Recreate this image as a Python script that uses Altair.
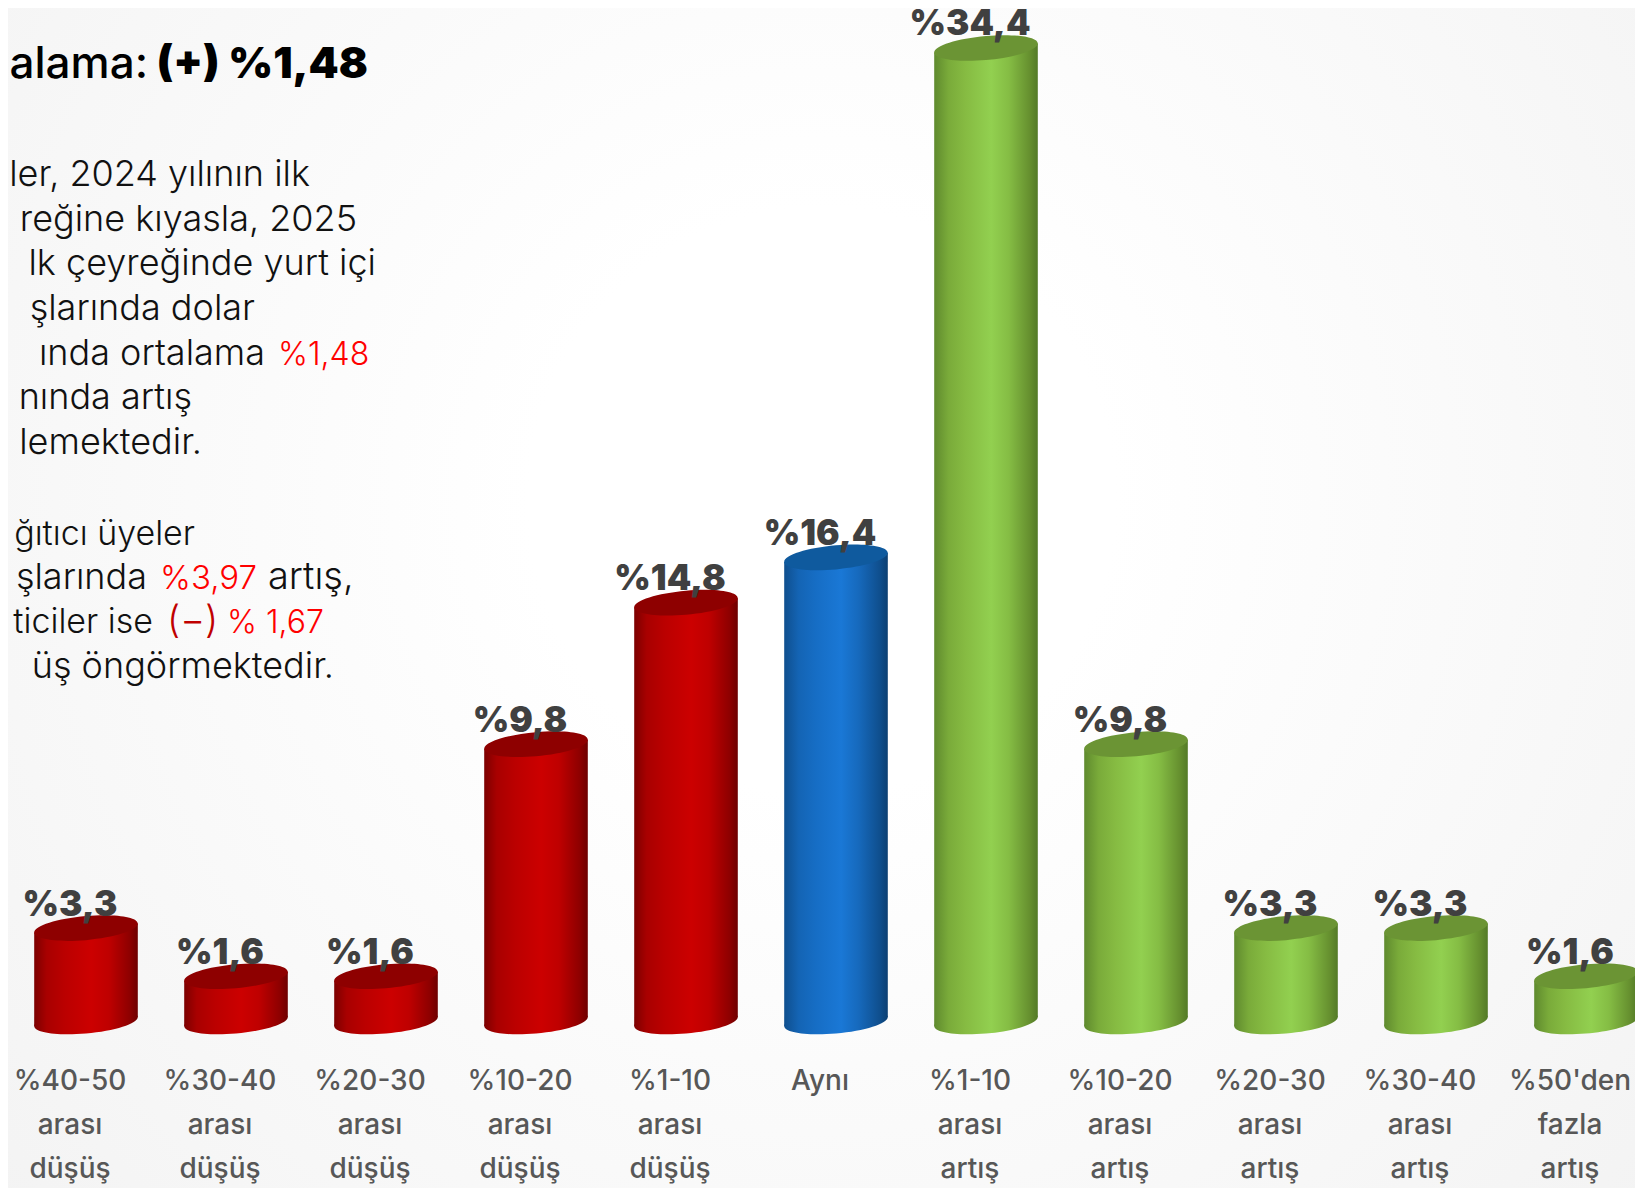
import altair as alt
import pandas as pd

W, H = 1627, 1180

categories = ["%40-50\narası\ndüşüş", "%30-40\narası\ndüşüş", "%20-30\narası\ndüşüş",
              "%10-20\narası\ndüşüş", "%1-10\narası\ndüşüş", "Aynı",
              "%1-10\narası\nartış", "%10-20\narası\nartış", "%20-30\narası\nartış",
              "%30-40\narası\nartış", "%50'den\nfazla\nartış"]
values = [3.3, 1.6, 1.6, 9.8, 14.8, 16.4, 34.4, 9.8, 3.3, 3.3, 1.6]
labels = ["%3,3", "%1,6", "%1,6", "%9,8", "%14,8", "%16,4", "%34,4", "%9,8", "%3,3", "%3,3", "%1,6"]
groups = ["red"] * 5 + ["blue"] + ["green"] * 5

STEP = 150.0
PX_PER_UNIT = 28.3
BASE_Y = 1013.5
X0 = 62.0
OFFSET = 16 / STEP
HALF = 51.8 / STEP
TILT = 4.5 / PX_PER_UNIT

x_scale = alt.Scale(domain=[-X0 / STEP, (W - X0) / STEP], range=[0, W])
y_scale = alt.Scale(domain=[0, BASE_Y / PX_PER_UNIT], range=[BASE_Y, 0])

base = pd.DataFrame({"i": range(len(values)), "v": values, "label": labels,
                     "cat": categories, "g": groups})
base["xc"] = base["i"] + OFFSET

sides = []
for _, r in base.iterrows():
    for s in (-1, 1):
        sides.append({"i": r["i"], "g": r["g"], "xs": r["xc"] + s * HALF,
                      "top": r["v"] + s * TILT, "bot": s * TILT})
sides = pd.DataFrame(sides)

# unit-box shape for the sheared ellipse (cylinder cap)
s_, k_, c_ = 0.087, 0.232, 0.5523
ELLIPSE = (f"M1,{-s_} C1,{k_*c_-s_} {c_},{k_-s_*c_} 0,{k_} "
           f"C{-c_},{k_+s_*c_} -1,{k_*c_+s_} -1,{s_} "
           f"C-1,{-k_*c_+s_} {-c_},{-k_+s_*c_} 0,{-k_} "
           f"C{c_},{-k_-s_*c_} 1,{-k_*c_-s_} 1,{-s_} Z")
CAP_SIZE = 103.6 ** 2

side_stops = {
    "red": [("#7c0000", 0), ("#a80000", .12), ("#bb0000", .3), ("#cc0000", .55), ("#bf0000", .72), ("#8e0000", .92), ("#6e0000", 1)],
    "green": [("#5f8a2e", 0), ("#7aab3a", .14), ("#86bb42", .3), ("#92d050", .55), ("#85bd44", .72), ("#66902f", .92), ("#537a27", 1)],
    "blue": [("#0f4f8e", 0), ("#1464b4", .14), ("#166dc4", .3), ("#1a78d6", .55), ("#1669bc", .72), ("#0f4f8e", .92), ("#0c3f72", 1)],
}
cap_colors = {"red": "#8e0000", "green": "#6b9434", "blue": "#0f5a9e"}


def grad(g):
    return alt.Gradient(gradient="linear", x1=0, x2=1, y1=0, y2=0,
                        stops=[alt.GradientStop(color=c, offset=o) for c, o in side_stops[g]])


X = lambda f: alt.X(f, scale=x_scale, axis=None)
Y = lambda f: alt.Y(f, scale=y_scale, axis=None)

bg = alt.Chart(pd.DataFrame({"a": [0]})).mark_rect(
    color=alt.Gradient(gradient="radial", x1=.5, y1=.44, x2=.5, y2=.44, r1=0, r2=.72,
                       stops=[alt.GradientStop(color="#ffffff", offset=0),
                              alt.GradientStop(color="#ffffff", offset=.25),
                              alt.GradientStop(color="#f2f2f2", offset=1)])
).encode(x=alt.value(0), x2=alt.value(W), y=alt.value(0), y2=alt.value(H))

layers = [bg]
for g in ("red", "blue", "green"):
    bd = base[base.g == g]
    sd = sides[sides.g == g]
    layers.append(alt.Chart(bd).mark_point(shape=ELLIPSE, size=CAP_SIZE, filled=True, opacity=1, color=grad(g))
                  .encode(x=X("xc:Q"), y=Y("zero:Q")).transform_calculate(zero="0"))
    layers.append(alt.Chart(sd).mark_area(color=grad(g), opacity=1, interpolate="linear")
                  .encode(x=X("xs:Q"), y=Y("top:Q"), y2="bot:Q", detail="i:N"))
    layers.append(alt.Chart(bd).mark_point(shape=ELLIPSE, size=CAP_SIZE, filled=True, opacity=1, color=cap_colors[g])
                  .encode(x=X("xc:Q"), y=Y("v:Q")))

layers.append(alt.Chart(base).mark_text(font="Inter", fontWeight=900, fontSize=35, color="#404040",
                                        baseline="alphabetic", align="center", dy=-12.5)
              .encode(x=X("i:Q"), y=Y("v:Q"), text="label:N"))
layers.append(alt.Chart(base).mark_text(font="Inter", fontWeight=500, fontSize=28, color="#575757",
                                        baseline="alphabetic", align="center", lineBreak="\n", lineHeight=44)
              .encode(x=X("i:Q"), y=alt.value(1082), text="cat:N"))

# side note: text segments anchored by page position minus the 8px margin
title_parts = [("alama:", 148, "right", 500, 44, "#000000"), ("(+) %1,48", 368, "right", 900, 43, "#000000")]
BODY = 36
body_rows = [
    ("ler, 2024 yılının ilk", 310, 186, "right", "#111111", BODY),
    ("reğine kıyasla, 2025", 357, 231, "right", "#111111", BODY),
    ("lk çeyreğinde yurt içi", 376, 275, "right", "#111111", BODY),
    ("şlarında dolar", 255, 320, "right", "#111111", BODY),
    ("ında ortalama", 265, 365, "right", "#111111", BODY),
    ("%1,48", 278, 365, "left", "#ff0000", 32),
    ("nında artış", 192, 409, "right", "#111111", BODY),
    ("lemektedir.", 202, 454, "right", "#111111", BODY),
    ("ğıtıcı üyeler", 195, 545, "right", "#111111", 34),
    ("şlarında", 147, 589, "right", "#111111", BODY),
    ("%3,97", 160, 589, "left", "#ff0000", 33),
    ("artış,", 268, 589, "left", "#111111", 38),
    ("ticiler ise", 153, 633, "right", "#111111", 34),
    ("(−)", 167, 633, "left", "#c00000", 38),
    ("% 1,67", 227, 633, "left", "#ff0000", 32),
    ("üş öngörmektedir.", 334, 678, "right", "#111111", BODY),
]
for t, x, al, wt, fs, col in title_parts:
    layers.append(alt.Chart(pd.DataFrame({"t": [t]})).mark_text(
        font="Inter", fontWeight=wt, fontSize=fs, color=col, align=al, baseline="alphabetic"
    ).encode(x=alt.value(x - 8), y=alt.value(78 - 8), text="t:N"))
body = pd.DataFrame(body_rows, columns=["t", "x", "y", "al", "col", "fs"])
for (al, col, fs), d in body.groupby(["al", "col", "fs"]):
    d = d.assign(px=d.x - 8, py=d.y - 8)
    layers.append(alt.Chart(d).mark_text(
        font="Inter", fontWeight=300, fontSize=fs, color=col, align=al, baseline="alphabetic"
    ).encode(x=alt.X("px:Q", scale=None, axis=None), y=alt.Y("py:Q", scale=None, axis=None), text="t:N"))

chart = alt.layer(*layers).properties(
    width=W, height=H, padding=0, autosize=alt.AutoSizeParams(type="none"), background="#f7f7f7"
).configure_view(stroke=None)
chart.save("out.html", embed_options={"renderer": "svg", "actions": False})
